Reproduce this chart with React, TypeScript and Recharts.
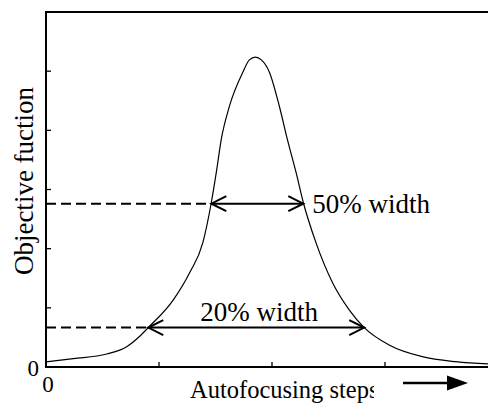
import { LineChart, Line, XAxis, YAxis, ReferenceLine } from "recharts"

// autofocusing step positions and objective function readings
const steps = [
  0, 0.242, 0.537, 0.714, 0.832, 0.905, 1.127, 1.271, 1.388, 1.463, 1.507, 1.551, 1.624, 1.741, 1.8, 1.853,
  1.906, 1.977, 2.065, 2.136, 2.213, 2.277, 2.389, 2.536, 2.683, 2.816, 3.036, 3.33, 3.625, 3.919, 4,
]
const objective = [
  0.085, 0.141, 0.22, 0.344, 0.525, 0.666, 1.136, 1.593, 2.102, 2.78, 3.288, 3.847, 4.412, 4.978, 5.19, 5.237,
  5.19, 4.983, 4.407, 3.847, 3.288, 2.78, 2.102, 1.424, 0.966, 0.666, 0.373, 0.175, 0.09, 0.051, 0.045,
]

const xTicks = [0, 1, 2, 3, 4]
const yTicks = [0, 1, 2, 3, 4, 5, 6]
const xDomain = [0, 4]
const yDomain = [0, 6]

// width markers: level on the curve, where it crosses left / right, and the label
const widthLabels = ["50% width", "20% width"]
const widthLevels = [2.76, 0.666]
const widthLeft = [1.463, 0.905]
const widthRight = [2.277, 2.816]

const data = steps.map((s, i) => ({ step: s, value: objective[i] }))

const FONT = "'Liberation Serif', 'Times New Roman', serif"
const W = 510
const H = 403
const M = { top: 12, right: 12, bottom: 36, left: 46 }
const PW = W - M.left - M.right
const PH = H - M.top - M.bottom

const chevron = (x: number, y: number, dir: number) => (
  <polyline
    points={`${x + dir * 15},${y - 7.5} ${x},${y} ${x + dir * 15},${y + 7.5}`}
    fill="none"
    stroke="#000"
    strokeWidth={2}
  />
)

const arrowShape = (i: number) => (props: any) => {
  const { x1, y1, x2, y2 } = props
  const tx = i === 0 ? x2 + 9 : x1 + 52
  const ty = i === 0 ? y1 + 9 : y1 - 7
  return (
    <g>
      <line x1={x1} y1={y1} x2={x2} y2={y2} stroke="#000" strokeWidth={2} />
      {chevron(x1, y1, 1)}
      {chevron(x2, y2, -1)}
      <text x={tx} y={ty} fontSize={27} fontFamily={FONT} fill="#000">
        {widthLabels[i]}
      </text>
    </g>
  )
}

const bottomTick = (props: any) => {
  const { x, y, payload } = props
  if (payload.value !== 0) return <g />
  return (
    <text x={x + 2} y={y + 30} textAnchor="middle" fontSize={23} fontFamily={FONT} fill="#000">
      0
    </text>
  )
}

const leftTick = (props: any) => {
  const { x, y, payload } = props
  if (payload.value !== 0) return <g />
  return (
    <text x={x - 12} y={y + 9} textAnchor="end" fontSize={23} fontFamily={FONT} fill="#000">
      0
    </text>
  )
}

const axisProps = {
  type: "number" as const,
  mirror: true,
  tickSize: 5,
  tickMargin: 0,
  allowDataOverflow: true,
  stroke: "#000",
  axisLine: false,
  tickLine: { stroke: "#000", strokeWidth: 1.3 },
}

export default function App() {
  return (
    <div style={{ margin: "-8px 0 0 -8px", width: 496, height: 403, overflow: "hidden", background: "#fff" }}>
      <LineChart width={W} height={H} data={data} margin={M}>
        <defs>
          <clipPath id="xtitle-clip">
            <rect x={0} y={360} width={374} height={43} />
          </clipPath>
        </defs>
        <XAxis {...axisProps} xAxisId="b" dataKey="step" orientation="bottom" domain={xDomain} ticks={xTicks} tick={bottomTick} />
        <XAxis {...axisProps} xAxisId="t" dataKey="step" orientation="top" domain={xDomain} ticks={xTicks} tick={false} />
        <YAxis {...axisProps} yAxisId="l" orientation="left" domain={yDomain} ticks={yTicks} tick={leftTick} />
        <YAxis {...axisProps} yAxisId="r" orientation="right" domain={yDomain} ticks={yTicks} tick={false} />
        {widthLevels.map((lv, i) => (
          <ReferenceLine
            key={`dash-${i}`}
            xAxisId="b"
            yAxisId="l"
            segment={[
              { x: 0, y: lv },
              { x: widthLeft[i], y: lv },
            ]}
            stroke="#000"
            strokeWidth={2}
            strokeDasharray="10 5"
          />
        ))}
        {widthLevels.map((lv, i) => (
          <ReferenceLine
            key={`arrow-${i}`}
            xAxisId="b"
            yAxisId="l"
            segment={[
              { x: widthLeft[i], y: lv },
              { x: widthRight[i], y: lv },
            ]}
            shape={arrowShape(i)}
          />
        ))}
        <Line
          xAxisId="b"
          yAxisId="l"
          dataKey="value"
          type="monotone"
          stroke="#000"
          strokeWidth={1.2}
          dot={false}
          isAnimationActive={false}
        />
        <text
          x={33}
          y={181}
          transform="rotate(-90, 33, 181)"
          textAnchor="middle"
          fontSize={27}
          fontFamily={FONT}
          fill="#000"
        >
          Objective fuction
        </text>
        <text x={190} y={398} fontSize={24.5} fontFamily={FONT} fill="#000" clipPath="url(#xtitle-clip)">
          Autofocusing steps
        </text>
        <line x1={403} y1={383} x2={449} y2={383} stroke="#000" strokeWidth={2.5} />
        <polygon points="447,375.5 468,383 447,390.5" fill="#000" />
        {/* plot frame as four filled bars */}
        <rect x={M.left - 1} y={M.top - 1} width={PW + 2} height={2} fill="#000" />
        <rect x={M.left - 1} y={M.top + PH - 1} width={PW + 2} height={2} fill="#000" />
        <rect x={M.left - 1} y={M.top - 1} width={2} height={PH + 2} fill="#000" />
        <rect x={M.left + PW - 1} y={M.top - 1} width={2} height={PH + 2} fill="#000" />
      </LineChart>
    </div>
  )
}
